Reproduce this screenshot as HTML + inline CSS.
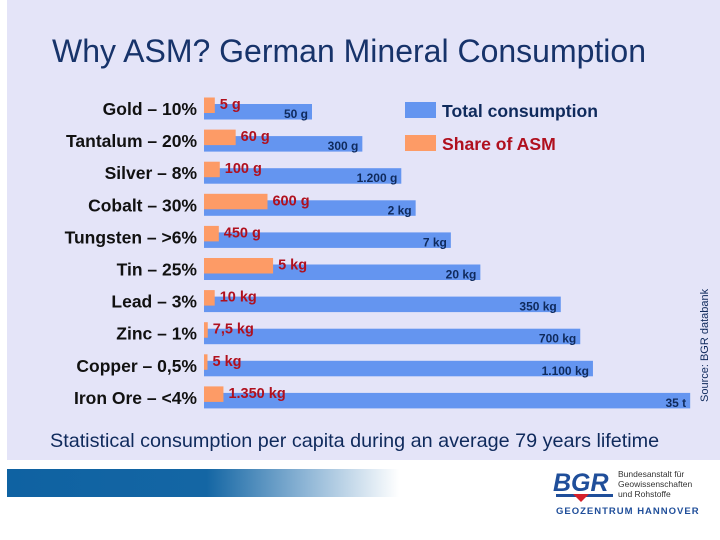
<!DOCTYPE html>
<html><head><meta charset="utf-8"><style>
body{margin:0;width:720px;height:540px;background:#fff;position:relative;overflow:hidden;font-family:"Liberation Sans",sans-serif}
#panel{position:absolute;left:7px;top:0;width:713px;height:460px;background:#e4e4f8}
#band{position:absolute;left:7px;top:469px;width:713px;height:28px;background:linear-gradient(90deg,#0f62a2 0%,#1466a4 28%,#8fb6d6 42%,#ffffff 55%)}
</style></head><body>
<div id="panel"></div>
<div id="band"></div>
<svg id="chart" width="720" height="540" style="position:absolute;left:0;top:0">
<text x="52" y="62" font-size="32" fill="#17336a">Why ASM? German Mineral Consumption</text>
<rect x="405" y="102" width="31" height="16" fill="#6495f0"/>
<text x="442" y="117" font-size="17.6" font-weight="bold" fill="#0f2a5c">Total consumption</text>
<rect x="405" y="135" width="31" height="16" fill="#fd9b66"/>
<text x="442" y="150" font-size="17.6" font-weight="bold" fill="#b0101e">Share of ASM</text>
<text transform="translate(708,402) rotate(-90)" font-size="11" fill="#0f2a5c">Source: BGR databank</text>
<text x="50" y="447" font-size="19.8" fill="#0f2a5c">Statistical consumption per capita during an average 79 years lifetime</text>
<g id="bars"></g>
<g>
<text x="553" y="491" font-size="25" font-weight="bold" fill="#1f4e9a" font-style="italic">BGR</text>
<path d="M556 494 L613 494 L613 497 L556 497Z" fill="#1f4e9a"/>
<path d="M573 494 L581 502 L589 494Z" fill="#d6202a"/>
<text x="618" y="477" font-size="8.5" fill="#333">Bundesanstalt für</text>
<text x="618" y="487" font-size="8.5" fill="#333">Geowissenschaften</text>
<text x="618" y="497" font-size="8.5" fill="#333">und Rohstoffe</text>
<text x="556" y="514" font-size="9.5" font-weight="bold" fill="#1f4e9a" letter-spacing="1">GEOZENTRUM HANNOVER</text>
</g>
</svg>
<script>
const minerals=["Gold – 10%","Tantalum – 20%","Silver – 8%","Cobalt – 30%","Tungsten – >6%","Tin – 25%","Lead – 3%","Zinc – 1%","Copper – 0,5%","Iron Ore – <4%"];
const totalGrams=[50,300,1200,2000,7000,20000,350000,700000,1100000,35000000];
const sharePct=[10,20,8,30,6,25,3,1,0.5,4];
const totalLabels=["50 g","300 g","1.200 g","2 kg","7 kg","20 kg","350 kg","700 kg","1.100 kg","35 t"];
const asmLabels=["5 g","60 g","100 g","600 g","450 g","5 kg","10 kg","7,5 kg","5 kg","1.350 kg"];
const NS="http://www.w3.org/2000/svg";
const x0=204;
function xLen(g){return 108+(Math.log10(g)-Math.log10(50))*64.7;}
function yRow(i){return 104+i*32.1;}
const G=document.getElementById('bars');
function mk(tag,attrs){const e=document.createElementNS(NS,tag);for(const k in attrs)e.setAttribute(k,attrs[k]);G.appendChild(e);return e;}
minerals.forEach((m,i)=>{
 const y=yRow(i), L=xLen(totalGrams[i]), o=L*sharePct[i]/100;
 const lab=mk('text',{x:197,y:y+11,'font-size':17.5,'font-weight':'bold','text-anchor':'end',fill:'#111'});
 lab.textContent=m;
 
 
 const b=mk('rect',{x:x0,y:y,width:L,height:15.5,fill:'#6495f0'});
 
 
 const ob=mk('rect',{x:x0,y:y-6.5,width:Math.max(o,3.5),height:15.5,fill:'#fd9b66'});
 
 
 const tl=mk('text',{x:x0+L-4,y:y+14,'font-size':12,'font-weight':'bold','text-anchor':'end',fill:'#0f2a5c'});
 tl.textContent=totalLabels[i];
 
 
 const al=mk('text',{x:x0+Math.max(o,3.5)+5,y:y+5,'font-size':14.5,'font-weight':'bold',fill:'#b0101e'});
 al.textContent=asmLabels[i];
 
 
});
</script>
</body></html>
